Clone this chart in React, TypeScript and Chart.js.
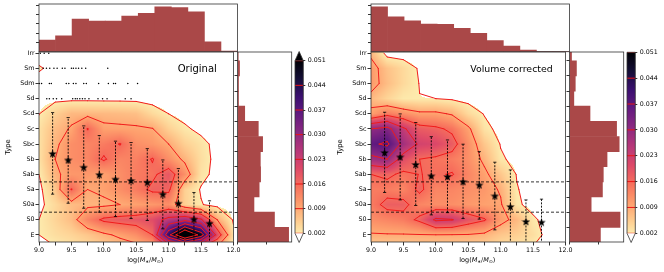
import React, { useEffect, useRef } from "react";
import { Chart, registerables } from "chart.js";

Chart.register(...registerables);

const FONT = "'DejaVu Sans', 'Liberation Sans', sans-serif";

// ---------------- data ----------------
const TYPES = ["E", "S0", "S0a", "Sa", "Sab", "Sb", "Sbc", "Sc", "Scd", "Sd", "Sdm", "Sm", "Irr"];
const TYPE_INDEX = TYPES.map((_, i) => i);
const MASS_TICKS = [9.0, 9.25, 9.5, 9.75, 10.0, 10.25, 10.5, 10.75, 11.0, 11.25, 11.5, 11.75, 12.0];
const MASS_BIN_CENTERS = [9.125, 9.375, 9.625, 9.875, 10.125, 10.375, 10.625, 10.875, 11.125, 11.375, 11.625, 11.875];
const GRID_MASS = [9.0, 9.25, 9.5, 9.75, 10.0, 10.25, 10.5, 10.75, 11.0, 11.25, 11.5, 11.75, 12.0];
const GRID_TYPE = [-1, 0, 1, 2, 3, 4, 5, 6, 7, 8, 9, 10, 11, 12];
const LEVELS = [0.002, 0.009, 0.016, 0.023, 0.03, 0.037, 0.044, 0.051];
const DENSITY_UNIT = 0.001;

// stellar-mass bin medians (stars) and error bars
const STAR_MASS = [9.21, 9.45, 9.69, 9.93, 10.18, 10.42, 10.67, 10.91, 11.15, 11.39, 11.63];
const ORIG_STAR_TYPE = [5.37, 4.95, 4.47, 3.98, 3.68, 3.59, 3.48, 2.69, 2.09, 1.04, 0.77];
const ORIG_ERR_LO = [2.69, 2.09, 1.76, 1.5, 1.21, 1.08, 0.95, 0.4, -0.2, -0.6, -0.6];
const ORIG_ERR_HI = [8.08, 7.75, 7.2, 6.56, 6.19, 6.1, 5.7, 4.95, 4.38, 2.8, 2.25];
const VOL_STAR_TYPE = [5.44, 5.15, 4.65, 3.9, 3.85, 3.52, 3.3, 2.58, 1.87, 0.88, 0.84];
const VOL_ERR_LO = [2.8, 2.31, 1.94, 1.32, 1.47, 1.08, 1.04, 0.33, -0.6, -0.6, -0.6];
const VOL_ERR_HI = [8.1, 7.99, 7.42, 6.49, 6.27, 5.99, 5.5, 4.8, 4.29, 2.31, 2.36];

// marginal histograms
const ORIG_MASS_HIST = [1.26, 1.73, 3.54, 3.32, 3.32, 3.86, 4.15, 4.86, 4.76, 4.32, 1.08, 0.08];
const VOL_MASS_HIST = [4.86, 3.78, 3.35, 2.99, 2.95, 2.52, 1.98, 1.19, 0.62, 0.18, 0, 0];
const ORIG_TYPE_HIST = [17.7, 12.8, 5.7, 7.5, 8.0, 7.9, 8.7, 7.2, 2.5, 0.35, 0.35, 0.7, 0.25];
const VOL_TYPE_HIST = [10.7, 17.5, 7.5, 11.4, 11.7, 13.0, 17.2, 16.3, 7.1, 1.5, 2.0, 2.4, 0.7];

// individual late-type galaxies (original sample)
const DOTS_IRR = [9.02, 9.08, 9.15];
const DOTS_SM = [9.065, 9.115, 9.166, 9.23, 9.28, 9.36, 9.4, 9.5, 9.53, 9.57, 9.61, 9.66, 9.72, 10.06];
const DOTS_SDM = [9.005, 9.04, 9.16, 9.19, 9.42, 9.46, 9.53, 9.57, 9.69, 9.73, 9.92, 10.07, 10.15, 10.18, 10.37, 10.52];
const DOTS_SD = [9.12, 9.16, 9.22, 9.27, 9.35, 9.52, 9.56, 9.59, 9.63, 9.67, 9.71, 9.77, 9.91, 9.98, 10.05, 10.33, 10.42];

// density grids (units of 1e-3), rows = GRID_TYPE (-1 .. Irr), cols = GRID_MASS
const ORIG_DENSITY = [
  [0.5, 1.5, 2.5, 3.5, 4.5, 5.5, 6.5, 8, 10, 10, 9, 6, 1],
  [2.0, 3.5, 4.5, 6, 8, 10, 12, 16, 42, 62, 48, 20, 3],
  [2, 4.5, 7, 13, 17, 18, 18.5, 20, 25, 28, 24, 9, 1.5],
  [1.0, 4, 7, 8, 8, 9, 10, 11, 12, 5, 2.2, 0.8, 0.3],
  [1.0, 6, 16.2, 9, 10, 12, 14, 17, 17, 5, 1.7, 0.5, 0.3],
  [2, 8, 11, 11, 10, 12, 14, 15, 18.5, 12, 3, 1, 0.3],
  [3, 9, 12, 13, 16.6, 13, 13.5, 16.3, 12, 8, 3.5, 1, 0.3],
  [3, 8, 12, 13, 14, 16.2, 12, 11, 9, 5, 3, 1, 0.3],
  [3, 7, 9.5, 16.2, 10, 9.8, 9.6, 9.2, 5, 2.5, 1.2, 0.3, 0],
  [1.9, 5, 7.5, 7.5, 7.5, 7.2, 6.8, 4.0, 2.0, 1.0, 0.5, 0.1, 0],
  [1.2, 1.1, 1.1, 1.1, 1.0, 1.0, 0.9, 0.6, 0.3, 0.1, 0, 0, 0],
  [1.0, 0.8, 0.6, 0.5, 0.5, 0.4, 0.3, 0.2, 0, 0, 0, 0, 0],
  [2.3, 1.2, 0.8, 0.5, 0.4, 0.2, 0.1, 0, 0, 0, 0, 0, 0],
  [0.8, 0.5, 0.3, 0.2, 0.2, 0.1, 0.1, 0, 0, 0, 0, 0, 0],
];
const VOL_DENSITY = [
  [4, 4.5, 4.5, 5, 5, 5, 4.5, 4, 3, 2.5, 1.5, 0.3, 0],
  [8.6, 8.7, 8.7, 8.8, 8.9, 8.8, 8.7, 8, 6, 5, 3.5, 0.8, 0],
  [12, 13, 14, 17, 24, 23.3, 19, 16.5, 10.5, 7.5, 2.5, 0.8, 0],
  [14, 17.5, 17.5, 13, 12, 12, 11, 10, 9.5, 2.5, 1, 0, 0],
  [14, 14, 13, 17, 13, 13, 12, 11, 8.5, 2.2, 0.6, 0, 0],
  [16, 17, 15, 16.1, 15.5, 16.3, 13, 10, 6, 1.8, 0.5, 0, 0],
  [28, 30, 20, 16, 15, 14, 12, 8, 2.5, 1, 0.3, 0, 0],
  [36, 38, 28, 22, 21, 18, 12, 6, 1.8, 0.6, 0.2, 0, 0],
  [30, 32, 24, 18, 17, 15, 10, 3, 1, 0.3, 0, 0, 0],
  [10, 14, 12, 10, 10, 8.5, 4, 1.8, 0.8, 0.3, 0, 0, 0],
  [7.5, 4.5, 2.3, 2.05, 2.0, 1.5, 1.0, 0.5, 0.2, 0, 0, 0, 0],
  [11, 7, 4, 1.9, 0.8, 0.5, 0.3, 0.1, 0, 0, 0, 0, 0],
  [11, 6.5, 4, 1.6, 0.8, 0.5, 0.3, 0.1, 0, 0, 0, 0, 0],
  [8, 0.5, 0.5, 0.4, 0.3, 0.2, 0.1, 0, 0, 0, 0, 0, 0],
];

// ---------------- styles ----------------
const BAR_COLOR = "rgb(170,72,72)";
const FRAME_COLOR = "#333";
const CONTOUR_COLOR = "rgb(240,28,28)";
const FILL_ALPHA = 1;
const COLOR_NORM_MIN = 0;
const TICK_FONT = { family: FONT, size: 6.3 };
const Y_MIN = -0.47;
const Y_MAX = 12.08;
const MAGMA = ["#000004", "#140e36", "#3b0f70", "#641a80", "#8c2981", "#b73779", "#de4968", "#f7705c", "#fe9f6d", "#fecf92", "#fcfdbf"];
const MAGMA_RGB = MAGMA.map((h) => [parseInt(h.slice(1, 3), 16), parseInt(h.slice(3, 5), 16), parseInt(h.slice(5, 7), 16)]);

function densityColor(v: number) {
  const lo = COLOR_NORM_MIN, hi = LEVELS[LEVELS.length - 1];
  const t = Math.min(1, Math.max(0, (v - lo) / (hi - lo)));
  const u = (1 - t) * 10;
  const k = Math.min(9, Math.floor(u));
  const f = u - k;
  const a = MAGMA_RGB[k], b = MAGMA_RGB[k + 1];
  return [a[0] + (b[0] - a[0]) * f, a[1] + (b[1] - a[1]) * f, a[2] + (b[2] - a[2]) * f];
}

function sampleGrid(grid: number[][], xv: number, yv: number) {
  const dx = GRID_MASS[1] - GRID_MASS[0];
  const dy = GRID_TYPE[1] - GRID_TYPE[0];
  let fx = (xv - GRID_MASS[0]) / dx;
  let fy = (yv - GRID_TYPE[0]) / dy;
  fx = Math.max(0, Math.min(GRID_MASS.length - 1, fx));
  fy = Math.max(0, Math.min(GRID_TYPE.length - 1, fy));
  const i = Math.min(Math.floor(fx), GRID_MASS.length - 2);
  const j = Math.min(Math.floor(fy), GRID_TYPE.length - 2);
  const tx = fx - i, ty = fy - j;
  const v00 = grid[j][i], v10 = grid[j][i + 1], v01 = grid[j + 1][i], v11 = grid[j + 1][i + 1];
  return ((v00 * (1 - tx) + v10 * tx) * (1 - ty) + (v01 * (1 - tx) + v11 * tx) * ty) * DENSITY_UNIT;
}

function drawContours(ctx: CanvasRenderingContext2D, xs: any, ys: any, grid: number[][]) {
  ctx.lineWidth = 1;
  ctx.strokeStyle = CONTOUR_COLOR;
  ctx.lineCap = "round";
  for (const L of LEVELS) {
    ctx.beginPath();
    for (let j = 0; j < GRID_TYPE.length - 1; j++) {
      for (let i = 0; i < GRID_MASS.length - 1; i++) {
        const a = grid[j][i] * DENSITY_UNIT;
        const b = grid[j][i + 1] * DENSITY_UNIT;
        const c = grid[j + 1][i + 1] * DENSITY_UNIT;
        const d = grid[j + 1][i] * DENSITY_UNIT;
        const idx = (a >= L ? 1 : 0) | (b >= L ? 2 : 0) | (c >= L ? 4 : 0) | (d >= L ? 8 : 0);
        if (idx === 0 || idx === 15) continue;
        const x0 = GRID_MASS[i], x1 = GRID_MASS[i + 1], y0 = GRID_TYPE[j], y1 = GRID_TYPE[j + 1];
        const B = () => [x0 + ((L - a) / (b - a)) * (x1 - x0), y0];
        const R = () => [x1, y0 + ((L - b) / (c - b)) * (y1 - y0)];
        const T = () => [x0 + ((L - d) / (c - d)) * (x1 - x0), y1];
        const Lf = () => [x0, y0 + ((L - a) / (d - a)) * (y1 - y0)];
        const seg = (p: number[], q: number[]) => {
          ctx.moveTo(xs.getPixelForValue(p[0]), ys.getPixelForValue(p[1]));
          ctx.lineTo(xs.getPixelForValue(q[0]), ys.getPixelForValue(q[1]));
        };
        const center = (a + b + c + d) / 4;
        switch (idx) {
          case 1: case 14: seg(Lf(), B()); break;
          case 2: case 13: seg(B(), R()); break;
          case 3: case 12: seg(Lf(), R()); break;
          case 4: case 11: seg(R(), T()); break;
          case 6: case 9: seg(B(), T()); break;
          case 7: case 8: seg(Lf(), T()); break;
          case 5:
            if (center >= L) { seg(B(), R()); seg(Lf(), T()); } else { seg(Lf(), B()); seg(R(), T()); }
            break;
          case 10:
            if (center >= L) { seg(Lf(), B()); seg(R(), T()); } else { seg(B(), R()); seg(Lf(), T()); }
            break;
        }
      }
    }
    ctx.stroke();
  }
}

function densityPlugin(grid: number[][]) {
  return {
    id: "densityField",
    beforeDatasetsDraw(chart: any) {
      const { ctx, chartArea: a, scales } = chart;
      const xs = scales.x, ys = scales.y;
      const L = Math.floor(a.left), T = Math.floor(a.top);
      const W = Math.ceil(a.right) - L, H = Math.ceil(a.bottom) - T;
      const off = document.createElement("canvas");
      off.width = W; off.height = H;
      const octx = off.getContext("2d")!;
      const img = octx.createImageData(W, H);
      for (let py = 0; py < H; py++) {
        const yv = ys.getValueForPixel(T + py + 0.5);
        for (let px = 0; px < W; px++) {
          const xv = xs.getValueForPixel(L + px + 0.5);
          const v = sampleGrid(grid, xv, yv);
          const o = (py * W + px) * 4;
          if (v < LEVELS[0]) { img.data[o + 3] = 0; continue; }
          const c = densityColor(v);
          img.data[o] = c[0]; img.data[o + 1] = c[1]; img.data[o + 2] = c[2];
          img.data[o + 3] = Math.round(255 * FILL_ALPHA);
        }
      }
      octx.putImageData(img, 0, 0);
      ctx.save();
      ctx.beginPath();
      ctx.rect(a.left, a.top, a.right - a.left, a.bottom - a.top);
      ctx.clip();
      ctx.drawImage(off, L, T);
      drawContours(ctx, xs, ys, grid);
      ctx.restore();
    },
  };
}

const framePlugin = {
  id: "frame",
  afterDatasetsDraw(chart: any) {
    const { ctx, chartArea: a } = chart;
    ctx.save();
    ctx.strokeStyle = FRAME_COLOR;
    ctx.lineWidth = 0.8;
    ctx.strokeRect(a.left, a.top, a.right - a.left, a.bottom - a.top);
    ctx.restore();
  },
};

function drawMassLabel(ctx: CanvasRenderingContext2D, cx: number, cy: number) {
  const base = 6.5;
  const normal = `${base}px ${FONT}`;
  const italic = `italic ${base}px ${FONT}`;
  const small = `${base * 0.7}px ${FONT}`;
  const parts = [
    { t: "log(", f: normal, dy: 0 },
    { t: "M", f: italic, dy: 0 },
    { t: "\u2217", f: small, dy: 1.6 },
    { t: "/", f: normal, dy: 0 },
    { t: "M", f: italic, dy: 0 },
    { t: "\u2299", f: small, dy: 1.6 },
    { t: ")", f: normal, dy: 0 },
  ];
  let total = 0;
  const widths = parts.map((p) => { ctx.font = p.f; const w = ctx.measureText(p.t).width; total += w; return w; });
  let x = cx - total / 2;
  ctx.textBaseline = "middle";
  ctx.textAlign = "left";
  ctx.fillStyle = "#000";
  parts.forEach((p, i) => { ctx.font = p.f; ctx.fillText(p.t, x, cy + p.dy); x += widths[i]; });
}

// ---------------- layout (px, relative to panel) ----------------
const MAIN_CANVAS = { left: 0, top: 44, width: 242, height: 228 };
const TOP_CANVAS = { left: 0, top: 0, width: 242, height: 56 };
const RIGHT_CANVAS = { left: 230, top: 44, width: 70, height: 212 };
const CBAR_CANVAS = { left: 288, top: 44, width: 44, height: 210 };

let STAR_IMG: HTMLCanvasElement | null = null;
function starImage() {
  if (STAR_IMG) return STAR_IMG;
  const s = 9;
  const c = document.createElement("canvas");
  c.width = s; c.height = s;
  const g = c.getContext("2d")!;
  g.beginPath();
  for (let k = 0; k < 10; k++) {
    const ang = -Math.PI / 2 + (k * Math.PI) / 5;
    const rad = k % 2 === 0 ? 4.4 : 1.8;
    const px = s / 2 + rad * Math.cos(ang), py = s / 2 + 0.4 + rad * Math.sin(ang);
    if (k === 0) g.moveTo(px, py); else g.lineTo(px, py);
  }
  g.closePath();
  g.fillStyle = "#000";
  g.fill();
  STAR_IMG = c;
  return c;
}

function textPlugin(spec: any) {
  return {
    id: "panelText",
    afterDraw(chart: any) {
      const { ctx, chartArea: a } = chart;
      ctx.save();
      ctx.fillStyle = "#000";
      ctx.font = `${spec.titleSize}px ${FONT}`;
      ctx.textAlign = "left";
      ctx.textBaseline = "alphabetic";
      ctx.fillText(spec.title, spec.titleX, 72 - MAIN_CANVAS.top);
      drawMassLabel(ctx, (a.left + a.right) / 2 + 9, 260 - MAIN_CANVAS.top);
      ctx.restore();
    },
  };
}

function mainConfig(spec: any): any {
  const errData: any[] = [];
  const capData: any[] = [];
  STAR_MASS.forEach((m, i) => {
    errData.push({ x: m, y: spec.errLo[i] }, { x: m, y: spec.errHi[i] }, { x: m, y: null });
    capData.push({ x: m, y: spec.errLo[i] }, { x: m, y: spec.errHi[i] });
  });
  const datasets: any[] = [
    {
      type: "scatter",
      data: STAR_MASS.map((m, i) => ({ x: m, y: spec.starY[i] })),
      pointStyle: starImage(),
      pointRadius: 4,
    },
    {
      type: "scatter",
      data: capData,
      pointStyle: "line",
      pointRadius: 1.6,
      borderColor: "#000",
      pointBorderWidth: 0.8,
    },
    {
      type: "line",
      data: errData,
      borderColor: "#000",
      borderWidth: 0.9,
      borderDash: [2, 1.3],
      pointRadius: 0,
      spanGaps: false,
    },
    {
      type: "line",
      data: [{ x: 9, y: 3.5 }, { x: 12, y: 3.5 }],
      borderColor: "#000",
      borderWidth: 0.8,
      borderDash: [3, 2],
      pointRadius: 0,
    },
    {
      type: "line",
      data: [{ x: 9, y: 1.5 }, { x: 12, y: 1.5 }],
      borderColor: "#000",
      borderWidth: 0.8,
      borderDash: [3, 2],
      pointRadius: 0,
    },
  ];
  if (spec.showDots) {
    const dots = [
      ...DOTS_IRR.map((x) => ({ x, y: 12 })),
      ...DOTS_SM.map((x) => ({ x, y: 11 })),
      ...DOTS_SDM.map((x) => ({ x, y: 10 })),
      ...DOTS_SD.map((x) => ({ x, y: 9 })),
    ];
    datasets.push({
      type: "scatter",
      data: dots,
      pointRadius: 0.75,
      pointBorderWidth: 0,
      backgroundColor: "#000",
    });
  }
  return {
    type: "scatter",
    data: { datasets },
    options: {
      responsive: false,
      animation: false,
      devicePixelRatio: 1,
      events: [],
      layout: { padding: { left: 0, right: MAIN_CANVAS.width - 237.5, top: 52 - MAIN_CANVAS.top, bottom: 0 } },
      plugins: { legend: { display: false }, tooltip: { enabled: false } },
      scales: {
        x: {
          type: "linear",
          min: 9,
          max: 12,
          afterBuildTicks: (s: any) => { s.ticks = MASS_TICKS.map((v) => ({ value: v })); },
          afterFit: (s: any) => { s.height = MAIN_CANVAS.top + MAIN_CANVAS.height - 242; },
          ticks: {
            autoSkip: false,
            maxRotation: 0,
            padding: 1.5,
            color: "#000",
            font: TICK_FONT,
            callback: (v: any) => (Math.abs(v * 2 - Math.round(v * 2)) < 1e-6 ? Number(v).toFixed(1) : ""),
          },
          grid: { drawOnChartArea: false, tickLength: 3.5, tickColor: "#000", tickWidth: 0.8 },
          border: { display: false },
        },
        y: {
          type: "linear",
          min: Y_MIN,
          max: Y_MAX,
          afterBuildTicks: (s: any) => { s.ticks = TYPE_INDEX.map((v) => ({ value: v })); },
          afterFit: (s: any) => { s.width = 39; },
          ticks: {
            autoSkip: false,
            padding: 1,
            color: "#000",
            font: TICK_FONT,
            callback: (v: any) => TYPES[Math.round(v)] ?? "",
          },
          title: { display: true, text: "Type", color: "#000", font: { family: FONT, size: 6.8 }, padding: { top: 4, bottom: 0 } },
          grid: { drawOnChartArea: false, tickLength: 3.5, tickColor: "#000", tickWidth: 0.8 },
          border: { display: false },
        },
      },
    },
    plugins: [densityPlugin(spec.density), framePlugin, textPlugin(spec)],
  };
}

function topHistConfig(spec: any): any {
  return {
    type: "bar",
    data: {
      datasets: [
        {
          data: MASS_BIN_CENTERS.map((c, i) => ({ x: c, y: spec.massHist[i] })),
          backgroundColor: BAR_COLOR,
          borderWidth: 0,
          barPercentage: 1,
          categoryPercentage: 1,
        },
      ],
    },
    options: {
      responsive: false,
      animation: false,
      devicePixelRatio: 1,
      events: [],
      layout: { padding: { left: 0, right: TOP_CANVAS.width - 237.5, top: 4, bottom: TOP_CANVAS.height - 51.7 } },
      plugins: { legend: { display: false }, tooltip: { enabled: false } },
      scales: {
        x: {
          type: "linear",
          min: 9,
          max: 12,
          offset: false,
          display: false,
          afterBuildTicks: (s: any) => { s.ticks = MASS_TICKS.map((v) => ({ value: v })); },
        },
        y: {
          type: "linear",
          min: 0,
          max: 5.16,
          afterBuildTicks: (s: any) => { s.ticks = [1, 2, 3, 4, 5].map((v) => ({ value: v })); },
          afterFit: (s: any) => { s.width = 39; },
          ticks: { display: false },
          grid: { drawOnChartArea: false, tickLength: 3, tickColor: "#000", tickWidth: 0.8 },
          border: { display: false },
        },
      },
    },
    plugins: [framePlugin],
  };
}

function rightHistConfig(spec: any): any {
  return {
    type: "bar",
    data: {
      datasets: [
        {
          data: TYPE_INDEX.map((i) => ({ x: spec.typeHist[i], y: i })),
          backgroundColor: BAR_COLOR,
          borderWidth: 0,
          barPercentage: 1,
          categoryPercentage: 1,
        },
      ],
    },
    options: {
      indexAxis: "y",
      responsive: false,
      animation: false,
      devicePixelRatio: 1,
      events: [],
      layout: { padding: { left: 0, right: RIGHT_CANVAS.left + RIGHT_CANVAS.width - 291.7, top: 52 - RIGHT_CANVAS.top, bottom: 0 } },
      plugins: { legend: { display: false }, tooltip: { enabled: false } },
      scales: {
        y: {
          type: "linear",
          min: Y_MIN,
          max: Y_MAX,
          offset: false,
          afterBuildTicks: (s: any) => { s.ticks = TYPE_INDEX.map((v) => ({ value: v })); },
          afterFit: (s: any) => { s.width = 237.5 - RIGHT_CANVAS.left; },
          ticks: { display: false },
          grid: { drawOnChartArea: false, tickLength: 3, tickColor: "#000", tickWidth: 0.8 },
          border: { display: false },
        },
        x: {
          type: "linear",
          min: 0,
          max: 18.76,
          afterBuildTicks: (s: any) => { s.ticks = [0, 10].map((v) => ({ value: v })); },
          afterFit: (s: any) => { s.height = RIGHT_CANVAS.top + RIGHT_CANVAS.height - 242; },
          ticks: { display: false },
          grid: { drawOnChartArea: false, tickLength: 2.5, tickColor: "#000", tickWidth: 0.8 },
          border: { display: false },
        },
      },
    },
    plugins: [framePlugin],
  };
}

function colorbarPlugin(extendMax: boolean) {
  const TRI = 9.2;
  const outline = (ctx: CanvasRenderingContext2D, a: any) => {
    const cx = (a.left + a.right) / 2;
    ctx.beginPath();
    ctx.moveTo(a.left, a.top);
    if (extendMax) ctx.lineTo(cx, a.top - TRI);
    ctx.lineTo(a.right, a.top);
    ctx.lineTo(a.right, a.bottom);
    ctx.lineTo(cx, a.bottom + TRI);
    ctx.lineTo(a.left, a.bottom);
    ctx.closePath();
  };
  return {
    id: "cbarFill",
    beforeDatasetsDraw(chart: any) {
      const { ctx, chartArea: a, scales } = chart;
      const y = scales.y;
      ctx.save();
      for (let py = Math.floor(a.top); py < Math.ceil(a.bottom); py++) {
        const top = Math.max(py, a.top), bot = Math.min(py + 1, a.bottom);
        const v = y.getValueForPixel((top + bot) / 2);
        const c = densityColor(v);
        ctx.fillStyle = `rgb(${Math.round(c[0])},${Math.round(c[1])},${Math.round(c[2])})`;
        ctx.fillRect(a.left, top, a.right - a.left, bot - top);
      }
      const cx = (a.left + a.right) / 2;
      if (extendMax) {
        ctx.beginPath();
        ctx.moveTo(a.left, a.top);
        ctx.lineTo(cx, a.top - TRI);
        ctx.lineTo(a.right, a.top);
        ctx.closePath();
        ctx.fillStyle = "rgb(0,0,4)";
        ctx.fill();
      }
      ctx.beginPath();
      ctx.moveTo(a.left, a.bottom);
      ctx.lineTo(cx, a.bottom + TRI);
      ctx.lineTo(a.right, a.bottom);
      ctx.closePath();
      ctx.fillStyle = "#fff";
      ctx.fill();
      ctx.restore();
    },
    afterDraw(chart: any) {
      const { ctx, chartArea: a } = chart;
      ctx.save();
      ctx.strokeStyle = FRAME_COLOR;
      ctx.lineWidth = 0.8;
      outline(ctx, a);
      ctx.stroke();
      ctx.restore();
    },
  };
}

function colorbarConfig(spec: any): any {
  const lineData: any[] = [];
  LEVELS.forEach((L) => { lineData.push({ x: 0, y: L }, { x: 1, y: L }, { x: 1, y: null }); });
  const top = spec.extendMax ? 60.7 : 52.3;
  return {
    type: "line",
    data: {
      datasets: [
        {
          data: lineData,
          borderColor: "rgb(235,20,20)",
          borderWidth: 1,
          pointRadius: 0,
          spanGaps: false,
        },
      ],
    },
    options: {
      responsive: false,
      animation: false,
      devicePixelRatio: 1,
      events: [],
      layout: { padding: { left: 295 - CBAR_CANVAS.left, right: 0, top: top - CBAR_CANVAS.top, bottom: CBAR_CANVAS.top + CBAR_CANVAS.height - 233.3 } },
      plugins: { legend: { display: false }, tooltip: { enabled: false } },
      scales: {
        x: { type: "linear", min: 0, max: 1, display: false },
        y: {
          type: "linear",
          position: "right",
          min: LEVELS[0],
          max: LEVELS[LEVELS.length - 1],
          afterBuildTicks: (s: any) => { s.ticks = LEVELS.map((v) => ({ value: v })); },
          afterFit: (s: any) => { s.width = CBAR_CANVAS.left + CBAR_CANVAS.width - 303.3; },
          ticks: { color: "#000", font: TICK_FONT, padding: 2.5, autoSkip: false, callback: (v: any) => Number(v).toFixed(3) },
          grid: { drawOnChartArea: false, tickLength: 2, tickColor: "#000", tickWidth: 0.8 },
          border: { display: false },
        },
      },
    },
    plugins: [colorbarPlugin(spec.extendMax)],
  };
}

const PANELS = [
  {
    key: "orig",
    offset: 0,
    title: "Original",
    titleX: 177.7,
    titleSize: 10,
    density: ORIG_DENSITY,
    starY: ORIG_STAR_TYPE,
    errLo: ORIG_ERR_LO,
    errHi: ORIG_ERR_HI,
    massHist: ORIG_MASS_HIST,
    typeHist: ORIG_TYPE_HIST,
    showDots: true,
    extendMax: true,
  },
  {
    key: "vol",
    offset: 332,
    title: "Volume corrected",
    titleX: 138.3,
    titleSize: 9.4,
    density: VOL_DENSITY,
    starY: VOL_STAR_TYPE,
    errLo: VOL_ERR_LO,
    errHi: VOL_ERR_HI,
    massHist: VOL_MASS_HIST,
    typeHist: VOL_TYPE_HIST,
    showDots: false,
    extendMax: false,
  },
];

function Panel({ spec }: { spec: any }) {
  const mainRef = useRef<HTMLCanvasElement>(null);
  const topRef = useRef<HTMLCanvasElement>(null);
  const rightRef = useRef<HTMLCanvasElement>(null);
  const cbarRef = useRef<HTMLCanvasElement>(null);
  useEffect(() => {
    const charts = [
      new Chart(mainRef.current!, mainConfig(spec)),
      new Chart(topRef.current!, topHistConfig(spec)),
      new Chart(rightRef.current!, rightHistConfig(spec)),
      new Chart(cbarRef.current!, colorbarConfig(spec)),
    ];
    return () => charts.forEach((c) => c.destroy());
  }, [spec]);
  const o = spec.offset;
  const st = (g: any): any => ({ position: "absolute", left: o + g.left, top: g.top, width: g.width, height: g.height });
  return (
    <>
      <canvas ref={mainRef} width={MAIN_CANVAS.width} height={MAIN_CANVAS.height} style={st(MAIN_CANVAS)} />
      <canvas ref={topRef} width={TOP_CANVAS.width} height={TOP_CANVAS.height} style={st(TOP_CANVAS)} />
      <canvas ref={rightRef} width={RIGHT_CANVAS.width} height={RIGHT_CANVAS.height} style={st(RIGHT_CANVAS)} />
      <canvas ref={cbarRef} width={CBAR_CANVAS.width} height={CBAR_CANVAS.height} style={st(CBAR_CANVAS)} />
    </>
  );
}

export default function App() {
  return (
    <div style={{ position: "absolute", left: 0, top: 0, width: 664, height: 272, background: "#fff", overflow: "hidden" }}>
      {PANELS.map((p) => (
        <Panel key={p.key} spec={p} />
      ))}
    </div>
  );
}
